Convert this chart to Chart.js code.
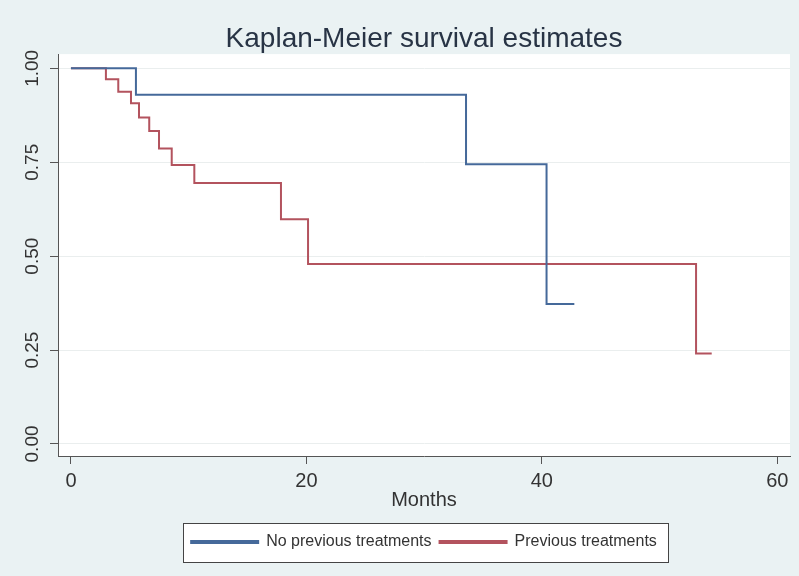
<!DOCTYPE html>
<html>
<head>
<meta charset="utf-8">
<script src="https://cdn.jsdelivr.net/npm/chart.js@4/dist/chart.umd.min.js"></script>
<style>
  body { margin: 0; background: #eaf2f3; }
  #wrap { width: 799px; height: 576px; }
</style>
</head>
<body>
<div id="wrap"><canvas id="km" width="799" height="576"></canvas></div>
<script>
// Kaplan-Meier step points (month of each drop, survival after it)
const noPrevMonths = [0, 5.52, 33.56, 40.4, 42.76];
const noPrevSurv = [1.0, 0.930, 0.745, 0.373, 0.373];
const prevMonths = [0, 2.97, 4.02, 5.10, 5.78, 6.65, 7.48, 8.56, 10.48, 17.84, 20.14, 53.1, 54.43];
const prevSurv = [1.0, 0.971, 0.938, 0.907, 0.869, 0.833, 0.787, 0.743, 0.695, 0.598, 0.479, 0.241, 0.241];

const seriesNames = ['No previous treatments', 'Previous treatments'];
const xTicks = [0, 20, 40, 60];
const yTicks = [0, 0.25, 0.5, 0.75, 1];

const titleText = 'Kaplan-Meier survival estimates';
const xTitle = 'Months';

const sans = "'Liberation Sans', Arial, sans-serif";

function to_points(xs, ys) {
    return xs.map((x, i) => ({ x: x, y: ys[i] }));
}

// graph region + white plot region + framed legend, like a Stata s2color graph
const backdrop = {
    id: 'backdrop',
    beforeDraw(chart) {
        const ctx = chart.ctx;
        const a = chart.chartArea;
        ctx.save();
        ctx.fillStyle = '#eaf2f3';
        ctx.fillRect(0, 0, chart.width, chart.height);
        ctx.fillStyle = '#ffffff';
        ctx.fillRect(a.left, a.top, a.right - a.left, a.bottom - a.top);

        const lg = chart.legend;
        if (lg && lg.legendHitBoxes && lg.legendHitBoxes.length) {
            const hb = lg.legendHitBoxes;
            const last = hb[hb.length - 1];
            const left = Math.round(hb[0].left - 8);
            const right = Math.round(last.left + last.width + 11);
            const top = Math.round(lg.top - 3);
            const bottom = Math.round(lg.bottom + 2);
            ctx.fillStyle = '#ffffff';
            ctx.fillRect(left, top, right - left, bottom - top);
            ctx.strokeStyle = '#444';
            ctx.lineWidth = 1;
            ctx.strokeRect(left + 0.5, top + 0.5, right - left, bottom - top);
        }
        ctx.restore();
    }
};

let ctx = document.getElementById('km');
let chart = new Chart(ctx, {
    type: 'line',
    data: {
        datasets: [{
            label: seriesNames[0],
            data: to_points(noPrevMonths, noPrevSurv),
            borderColor: '#45699a',
            backgroundColor: '#45699a',
            borderWidth: 2,
            stepped: true,
            pointRadius: 0,
            fill: false
        }, {
            label: seriesNames[1],
            data: to_points(prevMonths, prevSurv),
            borderColor: '#b3535e',
            backgroundColor: '#b3535e',
            borderWidth: 2,
            stepped: true,
            pointRadius: 0,
            fill: false
        }]
    },
    options: {
        responsive: false,
        animation: false,
        devicePixelRatio: 1,
        layout: { padding: { left: 24.5, right: 9, top: 0, bottom: 16 } },
        scales: {
            x: {
                type: 'linear',
                min: -1.10,
                max: 61.08,
                afterBuildTicks: axis => { axis.ticks = xTicks.map(v => ({ value: v })); },
                ticks: {
                    padding: 7,
                    color: '#333',
                    font: { family: sans, size: 20, lineHeight: 1 },
                    maxRotation: 0
                },
                grid: { drawOnChartArea: false, tickLength: 8, tickColor: '#555' },
                border: { color: '#555', width: 1 },
                title: {
                    display: true,
                    text: xTitle,
                    color: '#333',
                    font: { family: sans, size: 20, lineHeight: 1 },
                    padding: { top: -8, bottom: 16 }
                }
            },
            y: {
                min: -0.032,
                max: 1.038,
                afterBuildTicks: axis => { axis.ticks = yTicks.map(v => ({ value: v })); },
                ticks: {
                    padding: -1.5,
                    minRotation: 90,
                    maxRotation: 90,
                    crossAlign: 'center',
                    color: '#333',
                    font: { family: sans, size: 19, lineHeight: 1.5 },
                    callback: v => v.toFixed(2)
                },
                grid: { color: '#eaeeee', lineWidth: 1, tickLength: 8, tickColor: '#555' },
                border: { color: '#555', width: 1 }
            }
        },
        plugins: {
            title: {
                display: true,
                text: titleText,
                fullSize: false,
                color: '#283445',
                font: { family: sans, size: 28, weight: 'normal', lineHeight: 1.2 },
                padding: { top: 22.5, bottom: -2 }
            },
            legend: {
                display: true,
                position: 'bottom',
                fullSize: false,
                labels: {
                    boxWidth: 67,
                    boxHeight: 2,
                    padding: 8,
                    color: '#333',
                    font: { family: sans, size: 16 }
                }
            },
            tooltip: { enabled: false }
        }
    },
    plugins: [backdrop]
});
</script>
</body>
</html>
